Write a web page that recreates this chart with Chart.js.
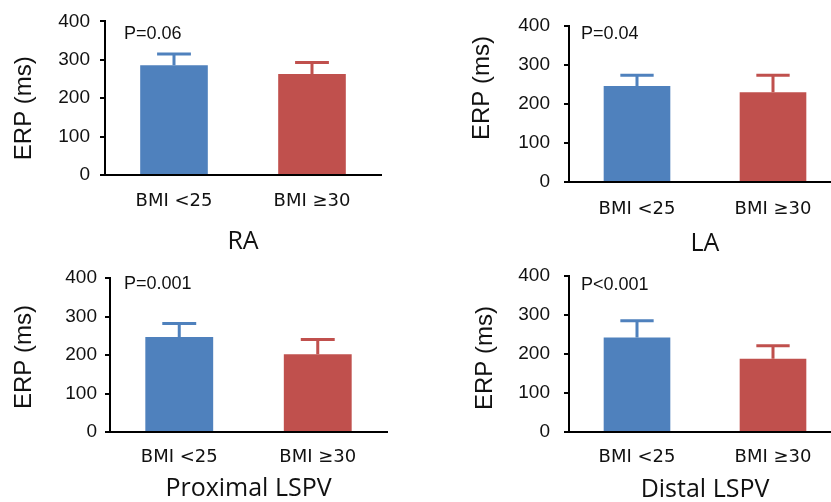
<!DOCTYPE html>
<html>
<head>
<meta charset="utf-8">
<script src="https://cdn.jsdelivr.net/npm/chart.js@4.4.0/dist/chart.umd.min.js"></script>
<style>
  html, body { margin: 0; padding: 0; background: #fff; overflow: hidden; }
  #wrap { position: relative; width: 831px; height: 502px; overflow: hidden; }
  canvas { position: absolute; left: 0; top: 0; }
</style>
</head>
<body>
<div id="wrap">
  <canvas id="c0" width="860" height="520"></canvas>
  <canvas id="c1" width="860" height="520"></canvas>
  <canvas id="c2" width="860" height="520"></canvas>
  <canvas id="c3" width="860" height="520"></canvas>
</div>
<script>
// data
const groups = ['BMI <25', 'BMI ≥30']
const yTicks = [0, 100, 200, 300, 400]
const panelNames = ['RA', 'LA', 'Proximal LSPV', 'Distal LSPV']
const pValues = ['P=0.06', 'P=0.04', 'P=0.001', 'P<0.001']
const raMean = [286, 263]
const raErr = [29, 30]
const laMean = [246, 230]
const laErr = [28, 44]
const proxMean = [247, 202]
const proxErr = [35, 38]
const distMean = [242, 188]
const distErr = [43, 33]

const means = [raMean, laMean, proxMean, distMean]
const errs = [raErr, laErr, proxErr, distErr]

const barColors = ['#4F81BD', '#C0504D']
const ink = '#111'

// where each panel sits on the 860x520 canvas
const W = 860, H = 520
const layouts = [
    { left: 0,   top: 21,  right: 381, bottom: 175, axisX: 105, tickPad: 10, yTitleX: 24,  yTitleShift: 10,  titleY: 242, catPad: 16, pDx: 19, pDy: 13 },
    { left: 415, top: 26,  right: 841, bottom: 182, axisX: 569, tickPad: 14, yTitleX: 482, yTitleShift: -16, titleY: 244, catPad: 17, pDx: 12, pDy: 8 },
    { left: 0,   top: 278, right: 387, bottom: 432, axisX: 110, tickPad: 8,  yTitleX: 24,  yTitleShift: 2,   titleY: 489, catPad: 15, pDx: 14, pDy: 6 },
    { left: 415, top: 276, right: 841, bottom: 432, axisX: 569, tickPad: 14, yTitleX: 485, yTitleShift: 4,   titleY: 490, catPad: 15, pDx: 12, pDy: 9 },
]

const errorBars = {
    id: 'errorBars',
    afterDatasetsDraw(chart) {
        const ctx = chart.ctx
        const ds = chart.data.datasets[0]
        const y = chart.scales.y
        chart.getDatasetMeta(0).data.forEach((bar, i) => {
            const top = y.getPixelForValue(ds.data[i] + ds.errors[i])
            const half = bar.width / 4
            ctx.save()
            ctx.strokeStyle = ds.backgroundColor[i]
            ctx.lineWidth = 3
            ctx.beginPath()
            ctx.moveTo(bar.x, bar.y)
            ctx.lineTo(bar.x, top)
            ctx.moveTo(bar.x - half, top)
            ctx.lineTo(bar.x + half, top)
            ctx.stroke()
            ctx.restore()
        })
    }
}

const panelText = {
    id: 'panelText',
    afterDraw(chart, args, opts) {
        const ctx = chart.ctx
        const a = chart.chartArea
        ctx.save()
        ctx.fillStyle = ink
        // p value
        ctx.font = '18px "Liberation Sans"'
        ctx.textAlign = 'left'
        ctx.textBaseline = 'middle'
        ctx.fillText(opts.p, a.left + opts.pDx, a.top + opts.pDy)
        // y title
        ctx.translate(opts.yTitleX, (a.top + a.bottom) / 2 + opts.yTitleShift)
        ctx.rotate(-Math.PI / 2)
        ctx.textAlign = 'center'
        ctx.font = '24px "Liberation Sans"'
        ctx.fillText('ERP (ms)', 0, 0)
        ctx.restore()
    }
}

function makePanel(k) {
    const L = layouts[k]
    const titleLine = 30
    const scaleBottom = L.titleY + titleLine / 2
    new Chart(document.getElementById('c' + k), {
        type: 'bar',
        data: {
            labels: groups,
            datasets: [{
                data: means[k],
                errors: errs[k],
                backgroundColor: barColors,
                borderWidth: 0,
                barPercentage: 0.49,
                categoryPercentage: 1
            }]
        },
        options: {
            responsive: false,
            animation: false,
            layout: {
                padding: { left: L.left, top: L.top, right: W - L.right, bottom: H - scaleBottom }
            },
            plugins: {
                legend: { display: false },
                tooltip: { enabled: false },
                panelText: { p: pValues[k], pDx: L.pDx, pDy: L.pDy, yTitleX: L.yTitleX, yTitleShift: L.yTitleShift }
            },
            scales: {
                x: {
                    grid: { display: false, drawTicks: false, tickLength: 0 },
                    border: { display: true, color: '#000', width: 2 },
                    ticks: { color: ink, padding: L.catPad, font: { family: 'DejaVu Sans', size: 18 } },
                    title: {
                        display: true,
                        text: panelNames[k],
                        color: ink,
                        padding: 0,
                        font: { family: 'Open Sans', size: 25, lineHeight: 1.2 }
                    },
                    afterFit(scale) { scale.height = scaleBottom - L.bottom }
                },
                y: {
                    min: yTicks[0],
                    max: yTicks[yTicks.length - 1],
                    afterBuildTicks(scale) { scale.ticks = yTicks.map(v => ({ value: v })) },
                    grid: { display: true, drawOnChartArea: false, drawTicks: true, tickLength: 5, color: '#000', lineWidth: 2 },
                    border: { display: true, color: '#000', width: 2 },
                    ticks: { color: ink, padding: L.tickPad, font: { family: 'Liberation Sans', size: 19 } },
                    afterFit(scale) { scale.width = L.axisX - L.left }
                }
            }
        },
        plugins: [errorBars, panelText]
    })
}

for (let k = 0; k < 4; k++) makePanel(k)
</script>
</body>
</html>
